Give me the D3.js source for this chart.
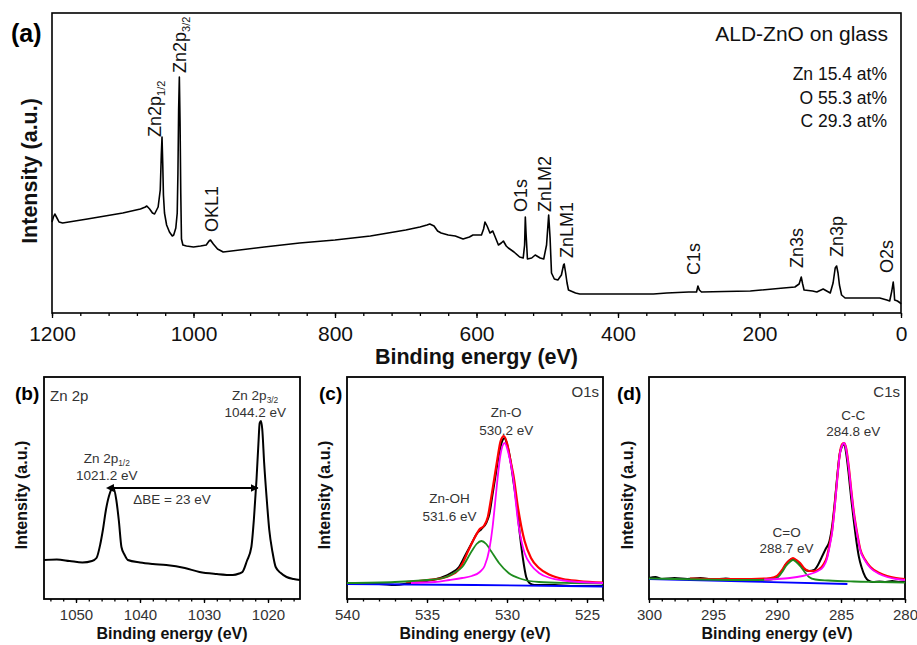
<!DOCTYPE html>
<html>
<head>
<meta charset="utf-8">
<script src="https://cdn.jsdelivr.net/npm/d3@7"></script>
<style>
  body { margin: 0; background: #fff; }
  svg { display: block; font-family: "Liberation Sans", Arial, sans-serif; }
</style>
</head>
<body>
<div id="chart"></div>
<script>
// ---------- data (binding energy eV, intensity a.u.) ----------

// (a) survey spectrum
const surveyTicks = [1200, 1000, 800, 600, 400, 200, 0];
const surveySpectrum = [
  [1200, 91], [1198, 96], [1196, 99], [1193, 95], [1190, 91], [1185, 90], [1150, 94], [1100, 100],
  [1075, 104], [1068, 106], [1066, 107], [1062, 104], [1058, 100], [1055, 99], [1050, 106],
  [1047, 123], [1045.5, 158], [1044.5, 176], [1043.5, 150], [1042.5, 118], [1041, 100],
  [1038, 88], [1034, 81], [1030, 77], [1028, 78], [1025, 85], [1023, 100], [1022, 140],
  [1021, 203], [1020, 236], [1019, 190], [1018, 120], [1017, 74], [1015, 68], [1010, 67],
  [1000, 66], [990, 67], [982, 68], [978, 72], [976, 73], [972, 69], [966, 64], [958, 61],
  [900, 66], [850, 70], [800, 73], [750, 77], [700, 83], [680, 86], [670, 88], [666, 89],
  [660, 87], [655, 82], [650, 80], [640, 78], [630, 77], [619, 74], [610, 76], [605, 78],
  [593, 78], [590, 84], [588, 91], [585, 87], [581, 80], [577, 82], [573, 75], [569, 68],
  [565, 70], [562, 72], [558, 67], [555, 65], [547, 61], [539, 56], [534, 55], [532, 68],
  [531, 96], [530, 80], [528, 54], [522, 55], [517, 58], [510, 55], [505, 54], [501, 68],
  [498, 98], [496, 75], [494, 40], [490, 34], [485, 33], [480, 38], [477, 48], [476, 49],
  [474, 40], [472, 30], [470, 23], [460, 20], [454, 19], [400, 19], [350, 19], [331, 20],
  [300, 21], [289, 21], [287, 27], [285, 23], [282, 21], [250, 21.5], [213, 22], [166, 25],
  [150, 26], [144, 29], [141, 36], [139, 29], [137, 23], [125, 22], [119, 21], [110, 24],
  [100, 20], [96, 30], [93, 45], [91, 47], [89, 40], [87, 28], [84, 18], [79, 15], [50, 15],
  [30, 15], [20, 13], [16, 12], [13, 22], [11, 31], [10, 24], [9, 13], [5, 12], [1, 10], [0, 9]
];
const surveyPeakLabels = [
  { name: "Zn2p", sub: "1/2", ev: 1046, at: 176 },
  { name: "Zn2p", sub: "3/2", ev: 1010, at: 240 },
  { name: "OKL1", sub: "", ev: 965, at: 81 },
  { name: "O1s", sub: "", ev: 528, at: 101 },
  { name: "ZnLM2", sub: "", ev: 495, at: 101 },
  { name: "ZnLM1", sub: "", ev: 464, at: 55 },
  { name: "C1s", sub: "", ev: 284, at: 38 },
  { name: "Zn3s", sub: "", ev: 138, at: 45 },
  { name: "Zn3p", sub: "", ev: 82, at: 56 },
  { name: "O2s", sub: "", ev: 11, at: 40 }
];
const composition = ["Zn 15.4 at%", "O 55.3 at%", "C 29.3 at%"];

// (b) Zn 2p
const zn2pTicks = [1050, 1040, 1030, 1020];
const zn2pSpectrum = [
  [1055, 39], [1053, 39.5], [1051, 38], [1049, 36.5], [1047.5, 38], [1046.8, 41], [1046.2, 55],
  [1045.8, 69], [1045.3, 90], [1044.7, 106], [1044.2, 112], [1043.7, 99], [1043.3, 78],
  [1042.9, 52], [1042.4, 44], [1041.9, 39], [1040, 36.5], [1038, 35], [1035.9, 34], [1033, 31],
  [1030.7, 27], [1028, 25], [1025.5, 24], [1024.5, 25.5], [1024, 27], [1023.3, 38], [1022.6, 52],
  [1022.2, 80], [1021.8, 119], [1021.5, 155], [1021.3, 176], [1021.1, 178], [1020.9, 170],
  [1020.6, 136], [1020.2, 100], [1019.8, 69], [1019.3, 47], [1018.8, 32], [1018, 26],
  [1017.1, 22], [1016, 20], [1015, 19]
];
const zn2pNotes = [
  { lines: ["Zn 2p|1/2", "1021.2 eV"], ev: 1045.2, at: 136 },
  { lines: ["Zn 2p|3/2", "1044.2 eV"], ev: 1022.0, at: 199 },
  { lines: ["\u0394BE = 23 eV"], ev: 1035, at: 95 }
];
const zn2pSplit = { from: 1044.2, to: 1021.6, at: 111 };

// (c) O 1s
const o1sTicks = [540, 535, 530, 525];
const o1sRaw = [
  [540, 15], [538, 15], [537, 14], [536, 16], [535, 18], [534, 22], [533.5, 26], [533, 32],
  [532.6, 44], [532.2, 56], [531.9, 65], [531.6, 70], [531.3, 76], [531.1, 85], [530.9, 105],
  [530.7, 125], [530.5, 145], [530.3, 158], [530.15, 161], [530, 155], [529.8, 140], [529.6, 118],
  [529.4, 95], [529.2, 65], [529, 40], [528.8, 22], [528.6, 16], [528.3, 14], [527, 14],
  [526, 13], [525, 13], [524, 13]
];
const o1sEnvelope = [
  [536.3, 17], [535, 19], [534, 21], [533.5, 24], [533.1, 28], [532.8, 35], [532.4, 49],
  [532, 62], [531.7, 70], [531.45, 73], [531.2, 82], [531, 100], [530.8, 120], [530.6, 140],
  [530.4, 158], [530.2, 163], [530, 156], [529.8, 140], [529.6, 124], [529.3, 90], [529.1, 72],
  [528.9, 58], [528.5, 41], [528, 31], [527.3, 24], [526.5, 20], [525.5, 18], [524, 16.5]
];
const o1sZnOH = [
  [540, 16], [537, 17], [535, 19], [534, 21], [533.3, 26], [532.8, 32], [532.2, 48], [531.9, 55],
  [531.6, 58], [531.3, 55], [531, 48], [530.5, 36], [529.9, 26], [529.1, 20], [528, 17],
  [526, 16], [524, 15.5]
];
const o1sZnO = [
  [536, 16], [534.5, 17], [533.6, 19], [532.8, 21], [532.2, 23], [531.7, 27], [531.4, 33],
  [531.1, 50], [530.9, 72], [530.75, 95], [530.6, 119], [530.4, 145], [530.15, 156],
  [529.9, 145], [529.6, 119], [529.45, 97], [529.3, 76], [529.1, 58], [528.9, 46], [528.5, 34],
  [528, 26], [527.3, 21], [526.5, 18.5], [525.5, 17], [524, 16]
];
const o1sBackground = [[540, 15], [532, 14], [524, 12.5]];
const o1sNotes = [
  { lines: ["Zn-O", "530.2 eV"], ev: 530.05, at: 182 },
  { lines: ["Zn-OH", "531.6 eV"], ev: 533.6, at: 96 }
];

// (d) C 1s
const c1sTicks = [300, 295, 290, 285, 280];
const c1sRaw = [
  [300, 21], [299.5, 22], [299, 20], [298, 21], [297, 20], [296, 21], [295, 19.5], [294, 20.5],
  [293, 19], [292, 20], [291, 19.5], [290.3, 20], [290, 22], [289.6, 28], [289.3, 35], [289, 39],
  [288.75, 40], [288.5, 38], [288.2, 34], [287.9, 30], [287.5, 28], [287.1, 29], [286.8, 34],
  [286.5, 42], [286.2, 50], [285.9, 58], [285.7, 72], [285.5, 95], [285.3, 122], [285.1, 145],
  [284.9, 153], [284.75, 155], [284.6, 146], [284.4, 125], [284.2, 100], [284, 78], [283.8, 58],
  [283.6, 42], [283.4, 32], [283.1, 22], [282.8, 18], [282.5, 17], [282, 17.5], [281.5, 17],
  [281, 18], [280.5, 17], [280, 17.5]
];
const c1sEnvelope = [
  [296.8, 20.5], [294, 20], [292, 20], [290.5, 21], [290, 23], [289.6, 29], [289.3, 35],
  [289, 39], [288.75, 41], [288.5, 39], [288.2, 36], [287.9, 31], [287.5, 28], [287.1, 28],
  [286.7, 30], [286.4, 34], [286.1, 42], [285.9, 54], [285.7, 68], [285.5, 92], [285.3, 120],
  [285.1, 145], [284.9, 155], [284.75, 156], [284.6, 151], [284.4, 133], [284.2, 109],
  [284, 87], [283.7, 63], [283.5, 50], [283.1, 39], [282.7, 32], [282, 26], [281.4, 23],
  [280.7, 21], [280, 20]
];
const c1sCO = [
  [300, 20.5], [296, 19.5], [292, 19], [290.5, 19.5], [290, 21], [289.6, 27], [289.3, 33],
  [289, 37], [288.75, 39], [288.5, 37], [288.2, 33], [287.9, 28], [287.5, 22], [287, 19.5],
  [286, 18.5], [284, 17.5], [282, 17], [280, 16.5]
];
const c1sCC = [
  [291, 19.5], [290, 20], [289, 21], [288, 23], [287.4, 25], [286.8, 28], [286.4, 32],
  [286.1, 40], [285.9, 52], [285.7, 66], [285.5, 90], [285.3, 119], [285.1, 144], [284.9, 154],
  [284.75, 156], [284.6, 150], [284.4, 132], [284.2, 108], [284, 86], [283.7, 62], [283.5, 49],
  [283.1, 38], [282.7, 31], [282, 25], [281.4, 22], [280.7, 20], [280, 19]
];
const c1sBackground = [[300, 20], [292, 17.5], [284.5, 15]];
const c1sNotes = [
  { lines: ["C-C", "284.8 eV"], ev: 284.05, at: 179 },
  { lines: ["C=O", "288.7 eV"], ev: 289.25, at: 62 }
];

// ---------- layout ----------
const W = 917, H = 645;
const colors = { raw: "#000", envelope: "#ff0000", comp1: "#1e8c1e", comp2: "#ff00ff", bg: "#0000ff" };
const noteColor = "#333";

const svg = d3.select("#chart").append("svg").attr("width", W).attr("height", H);

// generic framed panel with a reversed energy axis
function makePanel(box, xDomain, yDomain, major, minorStep, opt) {
  const g = svg.append("g").attr("transform", `translate(${box.left},${box.top})`);
  const x = d3.scaleLinear().domain(xDomain).range([0, box.width]);
  const y = d3.scaleLinear().domain(yDomain).range([box.height, 0]);

  const lo = Math.min(...xDomain), hi = Math.max(...xDomain);
  const minor = d3.range(Math.ceil(lo / minorStep) * minorStep, hi + 1e-9, minorStep);

  g.append("g")
    .attr("transform", `translate(0,${box.height})`)
    .call(d3.axisBottom(x).tickValues(minor).tickSize(opt.minorLen).tickFormat(""))
    .call(s => s.select(".domain").remove())
    .call(s => s.selectAll("line").attr("stroke", "#000").attr("stroke-width", 1.3));

  g.append("g")
    .attr("transform", `translate(0,${box.height})`)
    .call(d3.axisBottom(x).tickValues(major).tickFormat(d3.format("d"))
      .tickSize(opt.majorLen).tickSizeOuter(0).tickPadding(opt.pad))
    .call(s => s.select(".domain").remove())
    .call(s => s.selectAll("line").attr("stroke", "#000").attr("stroke-width", 1.3))
    .call(s => s.selectAll("text")
      .attr("font-family", "Liberation Sans, Arial, sans-serif")
      .attr("font-size", opt.tickFont)
      .attr("fill", opt.tickColor));

  g.append("rect")
    .attr("width", box.width).attr("height", box.height)
    .attr("fill", "none").attr("stroke", "#000").attr("stroke-width", opt.frame);

  // axis titles
  g.append("text")
    .attr("x", box.width / 2).attr("y", box.height + opt.xTitleOff)
    .attr("text-anchor", "middle").attr("font-weight", "bold")
    .attr("font-size", opt.titleFont).attr("fill", "#111")
    .text("Binding energy (eV)");
  g.append("text")
    .attr("transform", `translate(${opt.yTitleX},${opt.yTitleMid}) rotate(-90)`)
    .attr("text-anchor", "middle").attr("font-weight", "bold")
    .attr("font-size", opt.titleFont).attr("fill", "#111")
    .text("Intensity (a.u.)");

  return { g, x, y };
}

function drawLine(p, data, color, width, curve) {
  p.g.append("path")
    .datum(data)
    .attr("fill", "none")
    .attr("stroke", color)
    .attr("stroke-width", width)
    .attr("stroke-linejoin", "round")
    .attr("d", d3.line().x(d => p.x(d[0])).y(d => p.y(d[1])).curve(curve || d3.curveLinear));
}

// multi-line centred note; "|" marks a subscript
function drawNote(p, note, size, gap) {
  const t = p.g.append("text")
    .attr("text-anchor", "middle").attr("font-size", size).attr("fill", noteColor);
  note.lines.forEach((line, i) => {
    const [main, sub] = line.split("|");
    t.append("tspan")
      .attr("x", p.x(note.ev))
      .attr("y", p.y(note.at) + i * gap)
      .text(main);
    if (sub) {
      t.append("tspan").attr("font-size", size * 0.62).attr("dy", 2.5).text(sub);
    }
  });
}

// ---------- (a) survey ----------
const pa = makePanel(
  { left: 52, top: 13, width: 849, height: 300 }, [1200, 0], [0, 300],
  surveyTicks, 40,
  { minorLen: 3, majorLen: 5, pad: 8, tickFont: 21, tickColor: "#111", frame: 1.6,
    titleFont: 21.5, xTitleOff: 51, yTitleX: -15, yTitleMid: 158 }
);
drawLine(pa, surveySpectrum, "#000", 1.6);

surveyPeakLabels.forEach(d => {
  const t = pa.g.append("text")
    .attr("transform", `translate(${pa.x(d.ev)},${pa.y(d.at)}) rotate(-90)`)
    .attr("font-size", 18).attr("fill", "#111");
  t.append("tspan").text(d.name);
  if (d.sub) t.append("tspan").attr("font-size", 11).attr("dy", 4).text(d.sub);
});

pa.g.append("text")
  .attr("x", 836).attr("y", 28)
  .attr("text-anchor", "end").attr("font-size", 21).attr("fill", "#111")
  .text("ALD-ZnO on glass");

pa.g.selectAll(".comp")
  .data(composition)
  .join("text")
  .attr("class", "comp")
  .attr("x", 835).attr("y", (d, i) => 67 + i * 23.5)
  .attr("text-anchor", "end").attr("font-size", 17.5).attr("fill", "#111")
  .text(d => d);

svg.append("text").attr("x", 11).attr("y", 42)
  .attr("font-size", 25).attr("font-weight", "bold").text("(a)");

// ---------- small panels shared style ----------
const small = {
  minorLen: 2.5, majorLen: 4, pad: 6, tickFont: 15, tickColor: "#333", frame: 1.8,
  titleFont: 16, xTitleOff: 40, yTitleMid: 118
};

// (b) Zn 2p
const pb = makePanel({ left: 44, top: 377, width: 256, height: 222 }, [1055, 1015], [0, 222],
  zn2pTicks, 2, Object.assign({}, small, { yTitleX: -17 }));
drawLine(pb, zn2pSpectrum, "#000", 2, d3.curveMonotoneX);

const defs = svg.append("defs");
["start", "end"].forEach(k => {
  defs.append("marker")
    .attr("id", "arrow-" + k)
    .attr("viewBox", "0 0 10 10").attr("refX", k === "end" ? 9 : 1).attr("refY", 5)
    .attr("markerWidth", 4).attr("markerHeight", 4).attr("orient", "auto-start-reverse")
    .append("path").attr("d", "M0,0 L10,5 L0,10 z").attr("fill", "#000");
});
pb.g.append("line")
  .attr("x1", pb.x(zn2pSplit.from)).attr("x2", pb.x(zn2pSplit.to))
  .attr("y1", pb.y(zn2pSplit.at)).attr("y2", pb.y(zn2pSplit.at))
  .attr("stroke", "#000").attr("stroke-width", 2)
  .attr("marker-start", "url(#arrow-start)").attr("marker-end", "url(#arrow-end)");
zn2pNotes.forEach(n => drawNote(pb, n, 13.5, 17));
pb.g.append("text").attr("x", 6).attr("y", 24).attr("font-size", 15).attr("fill", noteColor).text("Zn 2p");
svg.append("text").attr("x", 15).attr("y", 400).attr("font-size", 19).attr("font-weight", "bold").text("(b)");

// (c) O 1s
const pc = makePanel({ left: 347, top: 377, width: 256, height: 222 }, [540, 524], [0, 222],
  o1sTicks, 1, Object.assign({}, small, { yTitleX: -17 }));
drawLine(pc, o1sRaw, colors.raw, 2, d3.curveMonotoneX);
drawLine(pc, o1sEnvelope, colors.envelope, 2.2, d3.curveMonotoneX);
drawLine(pc, o1sBackground, colors.bg, 1.8);
drawLine(pc, o1sZnOH, colors.comp1, 1.8, d3.curveMonotoneX);
drawLine(pc, o1sZnO, colors.comp2, 1.8, d3.curveMonotoneX);
o1sNotes.forEach(n => drawNote(pc, n, 13.5, 18));
pc.g.append("text").attr("x", 252).attr("y", 20).attr("text-anchor", "end")
  .attr("font-size", 15).attr("fill", noteColor).text("O1s");
svg.append("text").attr("x", 319).attr("y", 400).attr("font-size", 19).attr("font-weight", "bold").text("(c)");

// (d) C 1s
const pd = makePanel({ left: 649, top: 377, width: 256, height: 222 }, [300, 280], [0, 222],
  c1sTicks, 1, Object.assign({}, small, { yTitleX: -16 }));
drawLine(pd, c1sRaw, colors.raw, 2, d3.curveMonotoneX);
drawLine(pd, c1sEnvelope, colors.envelope, 2.2, d3.curveMonotoneX);
drawLine(pd, c1sBackground, colors.bg, 1.8);
drawLine(pd, c1sCO, colors.comp1, 1.8, d3.curveMonotoneX);
drawLine(pd, c1sCC, colors.comp2, 1.8, d3.curveMonotoneX);
c1sNotes.forEach(n => drawNote(pd, n, 13.5, 16));
pd.g.append("text").attr("x", 251).attr("y", 20).attr("text-anchor", "end")
  .attr("font-size", 15).attr("fill", noteColor).text("C1s");
svg.append("text").attr("x", 617).attr("y", 400).attr("font-size", 19).attr("font-weight", "bold").text("(d)");
</script>
</body>
</html>
